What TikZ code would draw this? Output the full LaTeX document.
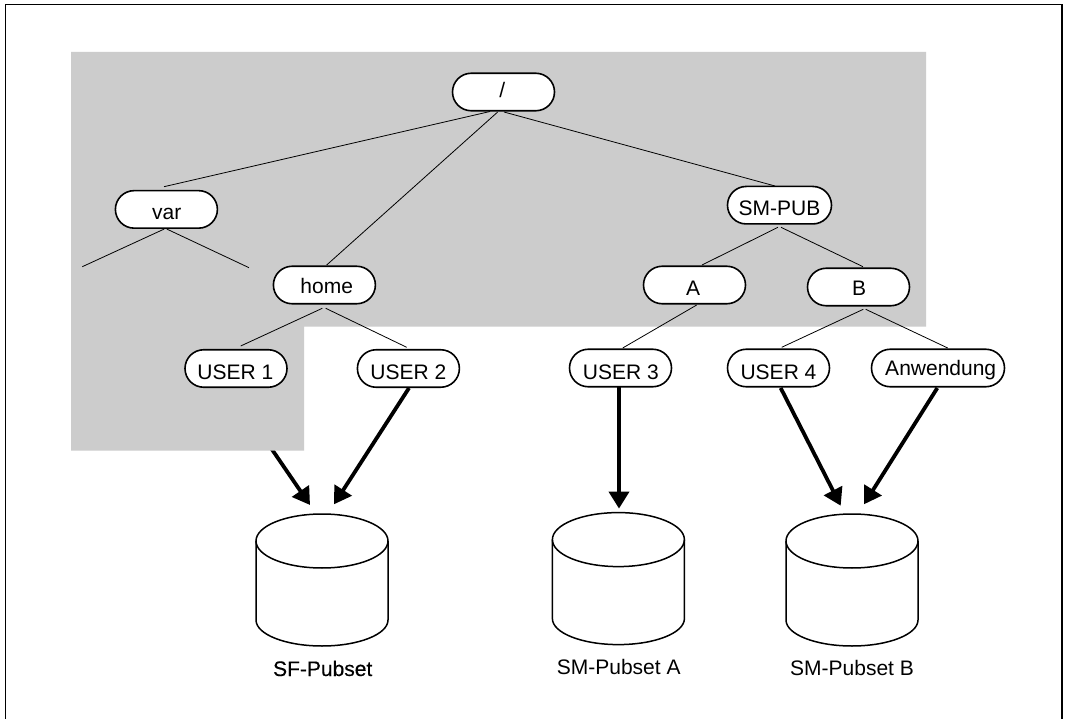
\documentclass[tikz,border=0pt]{standalone}
\usepackage{fontspec}
\setmainfont{Liberation Sans}
\newfontfamily\fakebold[FakeBold=0.35]{Liberation Sans}
\usetikzlibrary{arrows.meta,shapes.misc}
\tikzset{
  x=1pt,y=-1pt,
  pill/.style={rounded rectangle,draw=black,fill=white,line width=1.6pt,inner sep=0pt,minimum height=37.5pt,minimum width=102pt,font=\fontsize{21}{25}\selectfont},
  branch/.style={line width=0.8pt,black},
  mount/.style={line width=3.8pt,black,-{Triangle[length=17pt,width=20pt]}},
  disk/.style={inner sep=0pt,minimum width=132pt,minimum height=132pt},
  diskline/.style={line width=1.5pt,black},
  caption/.style={inner sep=0pt,font=\fontsize{21}{25}\selectfont,anchor=base},
}
% text of a node: horizontal shift, baseline below the node's centre, text
\newcommand{\lab}[3]{\raisebox{-#2pt}[0pt][0pt]{\makebox[0pt][c]{\hspace*{\dimexpr 2\dimexpr #1pt\relax\relax}#3}}}
\newcommand{\diskbody}[1]{%
  \draw[diskline] ([shift={(0,-39)}]#1.center) ellipse [x radius=66pt,y radius=27pt];
  \draw[diskline] ([shift={(-66,-39)}]#1.center) -- ([shift={(-66,40)}]#1.center)
    arc[start angle=180,end angle=360,x radius=66pt,y radius=26pt]
    -- ([shift={(66,-39)}]#1.center);}
\begin{document}
\begin{tikzpicture}
\useasboundingbox (0,0) rectangle (1066,719);
\fill[white] (0,0) rectangle (1066,719);
\draw[line width=1.2pt,black] (5.5,719) -- (5.5,4.5) -- (1062,4.5) -- (1062,719);
\node[disk] (sf) at (322,580) {};
\node[disk] (pa) at (618.4,578.6) {};
\node[disk] (pb) at (852,580) {};
\diskbody{sf}\diskbody{pa}\diskbody{pb}
% USER 1's node sits on the grey field; its arrow runs under the field
\coordinate (u1c) at (236,368.5);
\draw[mount] ([shift={(-6,19.5)}]u1c) -- ([shift={(-12,-75)}]sf.center);
\fill[black!20] (71,52) -- (926,52) -- (926,326.7) -- (304,326.7) -- (304,450.7) -- (71,450.7) -- cycle;
% nodes
\node[pill] (root) at (503.5,92) {\lab{-1.2}{5.5}{/}};
\node[pill] (var) at (166.4,209.4) {\lab{0.3}{10.6}{var}};
\node[pill] (home) at (324.4,285) {\lab{2.3}{9}{home}};
\node[pill] (u1) at (236,368.5) {\lab{-0.7}{10.5}{USER 1}};
\node[pill] (u2) at (408.4,368.5) {\lab{0}{10.5}{USER 2}};
\node[pill,minimum width=104pt] (sm) at (779.5,205.2) {\lab{0}{10}{SM-PUB}};
\node[pill] (a) at (694.5,285) {\lab{-1.5}{11}{A}};
\node[pill] (b) at (858.5,287) {\lab{0.5}{8.5}{B}};
\node[pill] (u3) at (620.5,368) {\lab{0.3}{11}{USER 3}};
\node[pill] (u4) at (778.5,368) {\lab{0}{11}{USER 4}};
\node[pill,minimum width=133pt] (anw) at (938,368) {\lab{2.7}{8}{Anwendung}};
\coordinate (varl) at (82.3,266.7);
\coordinate (varr) at (249,267.7);
% thin branches
\draw[branch] ([shift={(-13.5,19.5)}]root.center) -- ([shift={(-2.4,-22.7)}]var.center);
\draw[branch] ([shift={(-5.8,20)}]root.center) -- ([shift={(2.3,-20)}]home.center);
\draw[branch] ([shift={(0.5,20)}]root.center) -- ([shift={(-4.5,-19.2)}]sm.center);
\draw[branch] ([shift={(-2.1,19.6)}]var.center) -- (varl);
\draw[branch] ([shift={(0.3,19.6)}]var.center) -- (varr);
\draw[branch] ([shift={(-2.1,23.3)}]home.center) -- ([shift={(4.7,-22.5)}]u1.center);
\draw[branch] ([shift={(1.3,23.3)}]home.center) -- ([shift={(-1.7,-21.2)}]u2.center);
\draw[branch] ([shift={(-1.5,22.1)}]sm.center) -- ([shift={(7.5,-20)}]a.center);
\draw[branch] ([shift={(1.5,22.1)}]sm.center) -- ([shift={(4.5,-20.3)}]b.center);
\draw[branch] ([shift={(2.2,20)}]a.center) -- ([shift={(2.2,-20)}]u3.center);
\draw[branch] ([shift={(4.8,22.3)}]b.center) -- ([shift={(3.2,-20.7)}]u4.center);
\draw[branch] ([shift={(7.2,22.3)}]b.center) -- ([shift={(9.7,-20)}]anw.center);
% thick mounts
\draw[mount] ([shift={(0.6,19.5)}]u2.center) -- ([shift={(12,-75.7)}]sf.center);
\draw[mount] ([shift={(-1.5,19)}]u3.center) -- ([shift={(0.6,-70)}]pa.center);
\draw[mount] ([shift={(2.2,20)}]u4.center) -- ([shift={(-11.3,-74.3)}]pb.center);
\draw[mount] ([shift={(-0.7,20)}]anw.center) -- ([shift={(12,-75.7)}]pb.center);
% captions
\node[caption] (capsf) at (322.7,676) {\fakebold SF-Pubset};
\node[caption] (capa) at (618.7,674) {SM-Pubset A};
\node[caption] (capb) at (852,675) {SM-Pubset B};
\end{tikzpicture}
\end{document}
